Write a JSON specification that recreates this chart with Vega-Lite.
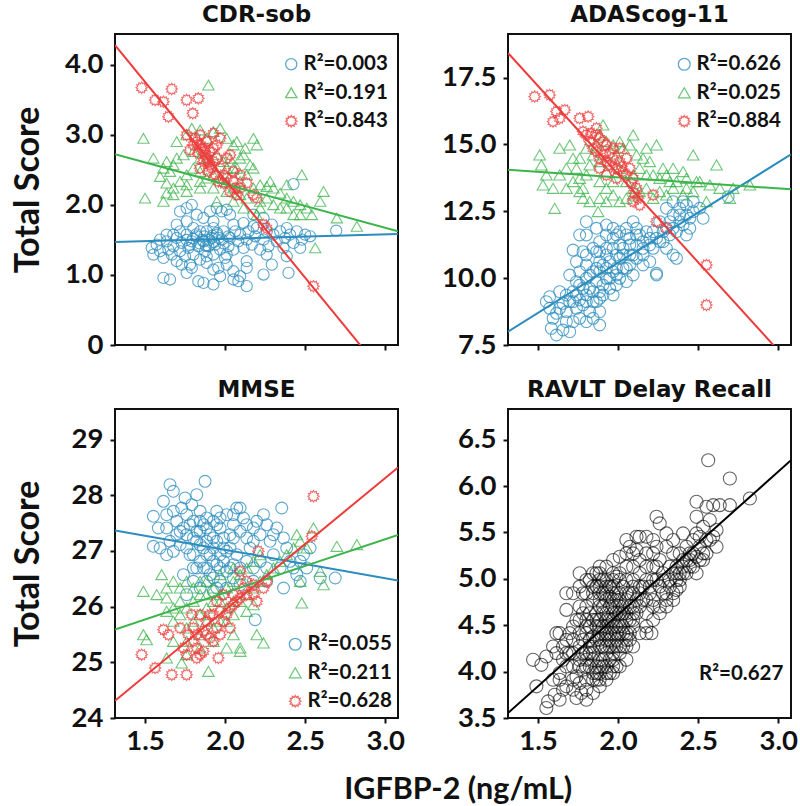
{
"$schema": "https://vega.github.io/schema/vega-lite/v6.json",
"padding": {"left": 9, "top": 3, "right": 2, "bottom": 2},
"background": "white",
"datasets": {
"cdr": [
{"x":1.615,"y":0.958,"g":"b"},{"x":1.656,"y":0.935,"g":"b"},{"x":1.760,"y":1.030,"g":"b"},{"x":1.833,"y":0.911,"g":"b"},{"x":1.865,"y":0.887,"g":"b"},{"x":1.927,"y":0.864,"g":"b"},{"x":1.958,"y":1.101,"g":"b"},{"x":1.969,"y":0.982,"g":"b"},{"x":2.052,"y":1.053,"g":"b"},{"x":2.083,"y":0.911,"g":"b"},{"x":2.094,"y":0.982,"g":"b"},{"x":2.135,"y":0.840,"g":"b"},{"x":2.240,"y":1.006,"g":"b"},{"x":2.292,"y":1.148,"g":"b"},{"x":2.396,"y":1.030,"g":"b"},{"x":2.135,"y":1.101,"g":"b"},{"x":1.792,"y":1.101,"g":"b"},{"x":1.927,"y":1.077,"g":"b"},{"x":2.052,"y":0.935,"g":"b"},
{"x":1.719,"y":1.907,"g":"b"},{"x":1.760,"y":1.955,"g":"b"},{"x":1.792,"y":2.002,"g":"b"},{"x":1.823,"y":1.860,"g":"b"},{"x":1.865,"y":1.813,"g":"b"},{"x":1.906,"y":1.907,"g":"b"},{"x":1.948,"y":1.955,"g":"b"},{"x":1.979,"y":1.907,"g":"b"},{"x":2.010,"y":1.931,"g":"b"},{"x":2.031,"y":1.860,"g":"b"},{"x":1.927,"y":1.765,"g":"b"},{"x":1.760,"y":1.765,"g":"b"},{"x":1.698,"y":1.718,"g":"b"},{"x":1.677,"y":1.575,"g":"b"},{"x":2.177,"y":1.860,"g":"b"},{"x":2.240,"y":1.813,"g":"b"},{"x":2.427,"y":2.297,"g":"b"},{"x":2.694,"y":1.632,"g":"b"},
{"x":1.542,"y":1.386,"g":"b"},{"x":1.552,"y":1.291,"g":"b"},{"x":1.573,"y":1.433,"g":"b"},{"x":1.594,"y":1.338,"g":"b"},{"x":1.615,"y":1.243,"g":"b"},{"x":1.635,"y":1.480,"g":"b"},{"x":1.646,"y":1.362,"g":"b"},{"x":1.667,"y":1.291,"g":"b"},{"x":1.677,"y":1.409,"g":"b"},{"x":1.698,"y":1.528,"g":"b"},{"x":1.698,"y":1.196,"g":"b"},{"x":1.719,"y":1.338,"g":"b"},{"x":1.729,"y":1.457,"g":"b"},{"x":1.750,"y":1.267,"g":"b"},{"x":1.760,"y":1.575,"g":"b"},{"x":1.771,"y":1.386,"g":"b"},{"x":1.792,"y":1.480,"g":"b"},{"x":1.802,"y":1.291,"g":"b"},{"x":1.823,"y":1.552,"g":"b"},{"x":1.833,"y":1.409,"g":"b"},{"x":1.844,"y":1.219,"g":"b"},{"x":1.865,"y":1.480,"g":"b"},{"x":1.875,"y":1.338,"g":"b"},{"x":1.885,"y":1.623,"g":"b"},{"x":1.896,"y":1.409,"g":"b"},{"x":1.917,"y":1.528,"g":"b"},{"x":1.927,"y":1.291,"g":"b"},{"x":1.938,"y":1.433,"g":"b"},{"x":1.948,"y":1.575,"g":"b"},{"x":1.969,"y":1.362,"g":"b"},{"x":1.979,"y":1.504,"g":"b"},{"x":1.990,"y":1.623,"g":"b"},{"x":2.000,"y":1.243,"g":"b"},{"x":2.021,"y":1.409,"g":"b"},{"x":2.031,"y":1.528,"g":"b"},{"x":2.052,"y":1.362,"g":"b"},{"x":2.063,"y":1.623,"g":"b"},{"x":2.083,"y":1.480,"g":"b"},{"x":2.094,"y":1.575,"g":"b"},{"x":2.115,"y":1.386,"g":"b"},{"x":2.135,"y":1.504,"g":"b"},{"x":2.146,"y":1.623,"g":"b"},{"x":2.167,"y":1.433,"g":"b"},{"x":2.188,"y":1.552,"g":"b"},{"x":2.198,"y":1.670,"g":"b"},{"x":2.219,"y":1.362,"g":"b"},{"x":2.240,"y":1.504,"g":"b"},{"x":2.260,"y":1.623,"g":"b"},{"x":2.271,"y":1.409,"g":"b"},{"x":2.292,"y":1.718,"g":"b"},{"x":2.302,"y":1.575,"g":"b"},{"x":2.323,"y":1.480,"g":"b"},{"x":2.344,"y":1.623,"g":"b"},{"x":2.365,"y":1.386,"g":"b"},{"x":2.375,"y":1.528,"g":"b"},{"x":2.385,"y":1.670,"g":"b"},{"x":2.406,"y":1.575,"g":"b"},{"x":2.427,"y":1.457,"g":"b"},{"x":2.448,"y":1.623,"g":"b"},{"x":2.469,"y":1.386,"g":"b"},{"x":2.479,"y":1.504,"g":"b"},{"x":2.500,"y":1.575,"g":"b"},{"x":2.531,"y":1.552,"g":"b"},{"x":1.802,"y":1.670,"g":"b"},{"x":1.844,"y":1.623,"g":"b"},{"x":1.927,"y":1.670,"g":"b"},{"x":2.052,"y":1.718,"g":"b"},{"x":2.115,"y":1.741,"g":"b"},{"x":2.177,"y":1.694,"g":"b"},{"x":1.729,"y":1.148,"g":"b"},{"x":1.781,"y":1.148,"g":"b"},{"x":1.885,"y":1.172,"g":"b"},{"x":2.010,"y":1.148,"g":"b"},{"x":2.135,"y":1.196,"g":"b"},{"x":2.260,"y":1.291,"g":"b"},{"x":2.385,"y":1.267,"g":"b"},{"x":1.719,"y":1.623,"g":"b"},{"x":1.635,"y":1.575,"g":"b"},{"x":1.594,"y":1.504,"g":"b"},{"x":2.010,"y":1.291,"g":"b"},{"x":1.885,"y":1.267,"g":"b"},
{"x":1.80,"y":1.52,"g":"b"},{"x":1.84,"y":1.45,"g":"b"},{"x":1.87,"y":1.55,"g":"b"},{"x":1.90,"y":1.50,"g":"b"},{"x":1.93,"y":1.47,"g":"b"},{"x":1.96,"y":1.53,"g":"b"},{"x":1.99,"y":1.45,"g":"b"},{"x":1.82,"y":1.58,"g":"b"},{"x":1.78,"y":1.43,"g":"b"},{"x":1.88,"y":1.42,"g":"b"},{"x":1.95,"y":1.60,"g":"b"},{"x":2.02,"y":1.55,"g":"b"},{"x":1.86,"y":1.50,"g":"b"},{"x":1.92,"y":1.56,"g":"b"},{"x":1.76,"y":1.50,"g":"b"},
{"x":1.490,"y":2.951,"g":"g"},{"x":1.896,"y":3.711,"g":"g"},{"x":1.500,"y":2.097,"g":"g"},{"x":1.615,"y":2.050,"g":"g"},{"x":1.552,"y":2.667,"g":"g"},{"x":1.615,"y":2.524,"g":"g"},{"x":1.635,"y":2.619,"g":"g"},{"x":1.677,"y":2.572,"g":"g"},{"x":1.698,"y":2.904,"g":"g"},{"x":1.760,"y":2.999,"g":"g"},{"x":1.792,"y":3.094,"g":"g"},{"x":1.844,"y":3.070,"g":"g"},{"x":1.885,"y":2.951,"g":"g"},{"x":1.927,"y":3.046,"g":"g"},{"x":1.969,"y":3.094,"g":"g"},{"x":2.010,"y":2.951,"g":"g"},{"x":2.052,"y":2.856,"g":"g"},{"x":2.073,"y":2.904,"g":"g"},{"x":2.094,"y":2.667,"g":"g"},{"x":2.125,"y":2.809,"g":"g"},{"x":2.177,"y":2.951,"g":"g"},{"x":2.198,"y":2.856,"g":"g"},{"x":2.156,"y":2.572,"g":"g"},{"x":2.177,"y":2.524,"g":"g"},{"x":2.219,"y":2.287,"g":"g"},{"x":2.260,"y":2.263,"g":"g"},{"x":2.281,"y":2.335,"g":"g"},{"x":2.302,"y":2.240,"g":"g"},{"x":2.344,"y":2.168,"g":"g"},{"x":2.385,"y":2.097,"g":"g"},{"x":2.427,"y":2.050,"g":"g"},{"x":2.469,"y":2.002,"g":"g"},{"x":2.479,"y":2.429,"g":"g"},{"x":2.510,"y":1.955,"g":"g"},{"x":2.542,"y":1.860,"g":"g"},{"x":2.594,"y":2.050,"g":"g"},{"x":2.615,"y":2.192,"g":"g"},{"x":2.698,"y":1.813,"g":"g"},{"x":2.823,"y":1.694,"g":"g"},{"x":2.563,"y":1.386,"g":"g"},{"x":2.385,"y":1.955,"g":"g"},{"x":2.427,"y":1.860,"g":"g"},{"x":2.469,"y":1.860,"g":"g"},{"x":2.344,"y":1.955,"g":"g"},{"x":2.219,"y":2.050,"g":"g"},{"x":2.094,"y":2.145,"g":"g"},{"x":2.052,"y":2.240,"g":"g"},{"x":2.010,"y":2.335,"g":"g"},{"x":1.969,"y":2.382,"g":"g"},{"x":1.927,"y":2.429,"g":"g"},{"x":1.885,"y":2.382,"g":"g"},{"x":1.844,"y":2.477,"g":"g"},{"x":1.802,"y":2.524,"g":"g"},{"x":1.760,"y":2.429,"g":"g"},{"x":1.719,"y":2.335,"g":"g"},{"x":1.677,"y":2.240,"g":"g"},{"x":1.635,"y":2.311,"g":"g"},{"x":1.677,"y":2.145,"g":"g"},{"x":1.760,"y":2.192,"g":"g"},{"x":1.844,"y":2.240,"g":"g"},{"x":1.927,"y":2.240,"g":"g"},{"x":2.010,"y":2.192,"g":"g"},{"x":2.094,"y":2.335,"g":"g"},{"x":2.135,"y":2.429,"g":"g"},{"x":1.740,"y":2.714,"g":"g"},{"x":1.802,"y":2.762,"g":"g"},{"x":1.844,"y":2.667,"g":"g"},{"x":1.885,"y":2.667,"g":"g"},{"x":1.948,"y":2.714,"g":"g"},{"x":1.990,"y":2.619,"g":"g"},{"x":2.031,"y":2.667,"g":"g"},{"x":2.073,"y":2.524,"g":"g"},{"x":2.115,"y":2.714,"g":"g"},{"x":1.760,"y":2.287,"g":"g"},{"x":1.844,"y":2.335,"g":"g"},{"x":2.052,"y":2.050,"g":"g"},{"x":2.135,"y":2.097,"g":"g"},{"x":2.177,"y":2.240,"g":"g"},{"x":2.260,"y":2.097,"g":"g"},{"x":2.302,"y":2.002,"g":"g"},{"x":2.219,"y":1.955,"g":"g"},{"x":2.385,"y":2.287,"g":"g"},{"x":1.594,"y":2.406,"g":"g"},{"x":1.656,"y":2.477,"g":"g"},{"x":1.635,"y":2.168,"g":"g"},{"x":1.698,"y":2.667,"g":"g"},{"x":2.010,"y":2.524,"g":"g"},{"x":1.948,"y":2.050,"g":"g"},{"x":2.052,"y":2.524,"g":"g"},{"x":2.115,"y":1.955,"g":"g"},{"x":2.198,"y":1.860,"g":"g"},
{"x":1.479,"y":3.673,"g":"r"},{"x":1.563,"y":3.497,"g":"r"},{"x":1.615,"y":3.473,"g":"r"},{"x":1.667,"y":3.654,"g":"r"},{"x":1.760,"y":3.497,"g":"r"},{"x":1.833,"y":3.521,"g":"r"},{"x":1.798,"y":3.307,"g":"r"},{"x":1.646,"y":3.260,"g":"r"},{"x":1.760,"y":2.999,"g":"r"},{"x":1.823,"y":2.904,"g":"r"},{"x":1.844,"y":2.856,"g":"r"},{"x":1.854,"y":2.809,"g":"r"},{"x":1.865,"y":2.762,"g":"r"},{"x":1.875,"y":2.714,"g":"r"},{"x":1.885,"y":2.667,"g":"r"},{"x":1.896,"y":2.619,"g":"r"},{"x":1.906,"y":2.572,"g":"r"},{"x":1.917,"y":2.524,"g":"r"},{"x":1.927,"y":2.619,"g":"r"},{"x":1.948,"y":2.667,"g":"r"},{"x":1.969,"y":2.951,"g":"r"},{"x":1.969,"y":2.524,"g":"r"},{"x":1.990,"y":2.429,"g":"r"},{"x":2.010,"y":2.382,"g":"r"},{"x":2.031,"y":2.714,"g":"r"},{"x":2.052,"y":2.335,"g":"r"},{"x":2.063,"y":2.240,"g":"r"},{"x":2.031,"y":2.192,"g":"r"},{"x":2.073,"y":2.145,"g":"r"},{"x":2.094,"y":2.240,"g":"r"},{"x":2.177,"y":2.145,"g":"r"},{"x":2.198,"y":2.097,"g":"r"},{"x":2.240,"y":1.718,"g":"r"},{"x":2.260,"y":1.670,"g":"r"},{"x":2.552,"y":0.840,"g":"r"},{"x":1.813,"y":2.951,"g":"r"},{"x":1.844,"y":2.999,"g":"r"},{"x":1.885,"y":2.904,"g":"r"},{"x":1.875,"y":2.809,"g":"r"},{"x":1.906,"y":2.762,"g":"r"},{"x":1.927,"y":2.809,"g":"r"},{"x":1.833,"y":2.738,"g":"r"},{"x":1.865,"y":2.619,"g":"r"},{"x":1.896,"y":2.477,"g":"r"},{"x":1.938,"y":2.429,"g":"r"},{"x":1.958,"y":2.335,"g":"r"},{"x":1.990,"y":2.311,"g":"r"},{"x":1.844,"y":2.524,"g":"r"},{"x":1.927,"y":3.023,"g":"r"},{"x":2.010,"y":2.667,"g":"r"},{"x":1.802,"y":2.856,"g":"r"},{"x":1.781,"y":2.785,"g":"r"},{"x":2.052,"y":2.477,"g":"r"},{"x":2.094,"y":2.429,"g":"r"},{"x":2.135,"y":2.311,"g":"r"},{"x":1.948,"y":2.856,"g":"r"}
],
"ada": [
{"x":1.615,"y":7.874,"g":"b"},{"x":1.656,"y":8.061,"g":"b"},{"x":1.573,"y":9.308,"g":"b"},{"x":1.552,"y":9.121,"g":"b"},{"x":1.573,"y":8.872,"g":"b"},{"x":1.615,"y":8.685,"g":"b"},{"x":1.656,"y":9.059,"g":"b"},{"x":1.677,"y":9.370,"g":"b"},{"x":1.719,"y":9.495,"g":"b"},{"x":1.698,"y":9.121,"g":"b"},{"x":1.740,"y":8.872,"g":"b"},{"x":1.760,"y":9.183,"g":"b"},{"x":1.781,"y":9.620,"g":"b"},{"x":1.802,"y":9.370,"g":"b"},{"x":1.823,"y":8.747,"g":"b"},{"x":1.844,"y":8.498,"g":"b"},{"x":1.885,"y":8.747,"g":"b"},{"x":1.865,"y":9.121,"g":"b"},{"x":1.885,"y":9.495,"g":"b"},{"x":1.906,"y":9.744,"g":"b"},{"x":1.927,"y":9.994,"g":"b"},{"x":1.948,"y":9.620,"g":"b"},{"x":1.969,"y":9.370,"g":"b"},{"x":1.802,"y":9.994,"g":"b"},{"x":1.760,"y":10.243,"g":"b"},{"x":1.740,"y":10.617,"g":"b"},{"x":1.802,"y":10.493,"g":"b"},{"x":1.844,"y":10.243,"g":"b"},{"x":1.885,"y":10.617,"g":"b"},{"x":1.927,"y":10.867,"g":"b"},{"x":1.969,"y":11.116,"g":"b"},{"x":2.010,"y":10.742,"g":"b"},{"x":2.052,"y":10.368,"g":"b"},{"x":2.094,"y":10.118,"g":"b"},{"x":2.073,"y":10.867,"g":"b"},{"x":2.115,"y":11.241,"g":"b"},{"x":2.156,"y":10.867,"g":"b"},{"x":2.115,"y":11.615,"g":"b"},{"x":2.052,"y":11.615,"g":"b"},{"x":1.990,"y":11.615,"g":"b"},{"x":1.927,"y":11.615,"g":"b"},{"x":1.885,"y":11.365,"g":"b"},{"x":1.844,"y":11.116,"g":"b"},{"x":1.802,"y":11.615,"g":"b"},{"x":1.781,"y":10.991,"g":"b"},{"x":1.927,"y":11.989,"g":"b"},{"x":1.969,"y":11.864,"g":"b"},{"x":2.010,"y":11.739,"g":"b"},{"x":2.052,"y":11.864,"g":"b"},{"x":2.094,"y":12.113,"g":"b"},{"x":2.135,"y":11.615,"g":"b"},{"x":2.177,"y":11.739,"g":"b"},{"x":2.219,"y":11.739,"g":"b"},{"x":2.240,"y":11.490,"g":"b"},{"x":2.281,"y":11.365,"g":"b"},{"x":2.302,"y":11.116,"g":"b"},{"x":2.344,"y":10.867,"g":"b"},{"x":2.365,"y":10.742,"g":"b"},{"x":2.323,"y":11.615,"g":"b"},{"x":2.365,"y":11.739,"g":"b"},{"x":2.406,"y":11.989,"g":"b"},{"x":2.427,"y":12.363,"g":"b"},{"x":2.448,"y":12.238,"g":"b"},{"x":2.469,"y":12.488,"g":"b"},{"x":2.427,"y":12.737,"g":"b"},{"x":2.385,"y":12.612,"g":"b"},{"x":2.344,"y":12.363,"g":"b"},{"x":2.302,"y":12.612,"g":"b"},{"x":2.344,"y":12.862,"g":"b"},{"x":2.406,"y":12.862,"g":"b"},{"x":2.469,"y":12.862,"g":"b"},{"x":2.510,"y":12.612,"g":"b"},{"x":2.531,"y":12.238,"g":"b"},{"x":2.688,"y":13.049,"g":"b"},{"x":2.240,"y":10.118,"g":"b"},{"x":2.198,"y":10.617,"g":"b"},{"x":2.156,"y":10.493,"g":"b"},{"x":1.719,"y":8.373,"g":"b"},{"x":1.760,"y":8.498,"g":"b"},{"x":1.802,"y":8.373,"g":"b"},{"x":1.885,"y":8.248,"g":"b"},{"x":1.635,"y":9.495,"g":"b"},{"x":1.583,"y":8.123,"g":"b"},{"x":1.677,"y":8.373,"g":"b"},{"x":1.698,"y":7.999,"g":"b"},{"x":1.865,"y":10.991,"g":"b"},{"x":1.990,"y":10.368,"g":"b"},{"x":2.010,"y":9.994,"g":"b"},{"x":1.927,"y":10.368,"g":"b"},{"x":1.969,"y":10.243,"g":"b"},{"x":1.885,"y":10.243,"g":"b"},{"x":2.094,"y":10.867,"g":"b"},{"x":2.156,"y":11.365,"g":"b"},{"x":2.219,"y":11.116,"g":"b"},{"x":2.260,"y":11.365,"g":"b"},{"x":1.760,"y":9.744,"g":"b"},{"x":1.865,"y":9.869,"g":"b"},{"x":1.990,"y":9.744,"g":"b"},{"x":2.052,"y":9.869,"g":"b"},{"x":1.885,"y":9.246,"g":"b"},{"x":1.802,"y":9.121,"g":"b"},{"x":1.844,"y":9.495,"g":"b"},{"x":2.010,"y":11.241,"g":"b"},{"x":2.031,"y":10.867,"g":"b"},{"x":2.073,"y":11.490,"g":"b"},{"x":2.115,"y":11.864,"g":"b"},{"x":2.198,"y":11.490,"g":"b"},{"x":2.302,"y":11.864,"g":"b"},{"x":2.385,"y":12.113,"g":"b"},{"x":2.427,"y":11.615,"g":"b"},{"x":2.448,"y":11.864,"g":"b"},{"x":2.323,"y":12.113,"g":"b"},{"x":2.260,"y":12.113,"g":"b"},{"x":1.740,"y":9.869,"g":"b"},{"x":1.698,"y":10.118,"g":"b"},{"x":1.760,"y":11.615,"g":"b"},{"x":1.802,"y":12.113,"g":"b"},{"x":1.865,"y":11.864,"g":"b"},{"x":1.719,"y":11.050,"g":"b"},{"x":2.240,"y":10.180,"g":"b"},
{"x":1.823,"y":10.118,"g":"b"},{"x":1.865,"y":10.368,"g":"b"},{"x":1.906,"y":10.493,"g":"b"},{"x":1.948,"y":10.617,"g":"b"},{"x":1.990,"y":10.867,"g":"b"},{"x":2.031,"y":11.116,"g":"b"},{"x":2.073,"y":11.241,"g":"b"},{"x":1.823,"y":9.620,"g":"b"},{"x":1.906,"y":9.370,"g":"b"},{"x":1.948,"y":9.994,"g":"b"},{"x":1.990,"y":10.118,"g":"b"},{"x":2.031,"y":10.368,"g":"b"},{"x":2.073,"y":10.493,"g":"b"},{"x":2.115,"y":10.742,"g":"b"},{"x":2.156,"y":11.116,"g":"b"},{"x":2.198,"y":11.241,"g":"b"},{"x":1.927,"y":11.116,"g":"b"},{"x":1.969,"y":11.490,"g":"b"},{"x":1.885,"y":10.991,"g":"b"},{"x":1.802,"y":10.867,"g":"b"},{"x":1.740,"y":9.370,"g":"b"},{"x":1.719,"y":9.121,"g":"b"},{"x":1.781,"y":8.996,"g":"b"},{"x":1.844,"y":9.121,"g":"b"},{"x":1.677,"y":8.747,"g":"b"},{"x":1.635,"y":8.872,"g":"b"},{"x":1.594,"y":8.498,"g":"b"},{"x":2.281,"y":11.739,"g":"b"},{"x":2.344,"y":11.864,"g":"b"},{"x":2.385,"y":12.363,"g":"b"},
{"x":1.510,"y":14.607,"g":"g"},{"x":1.521,"y":14.233,"g":"g"},{"x":1.552,"y":13.859,"g":"g"},{"x":1.531,"y":13.485,"g":"g"},{"x":1.604,"y":12.612,"g":"g"},{"x":1.635,"y":14.857,"g":"g"},{"x":1.677,"y":14.108,"g":"g"},{"x":1.698,"y":14.981,"g":"g"},{"x":1.719,"y":14.483,"g":"g"},{"x":1.740,"y":14.108,"g":"g"},{"x":1.760,"y":13.734,"g":"g"},{"x":1.781,"y":13.360,"g":"g"},{"x":1.802,"y":13.859,"g":"g"},{"x":1.823,"y":14.233,"g":"g"},{"x":1.844,"y":14.607,"g":"g"},{"x":1.865,"y":14.981,"g":"g"},{"x":1.885,"y":15.355,"g":"g"},{"x":1.906,"y":15.729,"g":"g"},{"x":1.927,"y":15.106,"g":"g"},{"x":1.969,"y":14.981,"g":"g"},{"x":1.990,"y":14.607,"g":"g"},{"x":2.010,"y":15.106,"g":"g"},{"x":2.031,"y":14.857,"g":"g"},{"x":2.073,"y":14.981,"g":"g"},{"x":2.094,"y":15.355,"g":"g"},{"x":2.115,"y":14.607,"g":"g"},{"x":2.135,"y":14.108,"g":"g"},{"x":2.156,"y":14.483,"g":"g"},{"x":2.177,"y":14.857,"g":"g"},{"x":2.198,"y":14.358,"g":"g"},{"x":2.219,"y":13.859,"g":"g"},{"x":2.240,"y":14.981,"g":"g"},{"x":2.281,"y":14.108,"g":"g"},{"x":2.302,"y":13.859,"g":"g"},{"x":2.323,"y":13.610,"g":"g"},{"x":2.344,"y":13.360,"g":"g"},{"x":2.365,"y":13.610,"g":"g"},{"x":2.406,"y":13.984,"g":"g"},{"x":2.427,"y":13.734,"g":"g"},{"x":2.469,"y":14.607,"g":"g"},{"x":2.510,"y":13.610,"g":"g"},{"x":2.615,"y":14.233,"g":"g"},{"x":2.698,"y":12.986,"g":"g"},{"x":2.823,"y":13.485,"g":"g"},{"x":1.875,"y":12.488,"g":"g"},{"x":1.885,"y":12.986,"g":"g"},{"x":1.927,"y":12.862,"g":"g"},{"x":1.969,"y":13.111,"g":"g"},{"x":2.010,"y":12.862,"g":"g"},{"x":2.052,"y":12.986,"g":"g"},{"x":2.094,"y":13.111,"g":"g"},{"x":2.135,"y":13.236,"g":"g"},{"x":2.177,"y":13.360,"g":"g"},{"x":2.219,"y":12.986,"g":"g"},{"x":2.260,"y":13.236,"g":"g"},{"x":2.302,"y":13.111,"g":"g"},{"x":2.406,"y":13.111,"g":"g"},{"x":2.469,"y":13.236,"g":"g"},{"x":2.552,"y":12.862,"g":"g"},{"x":1.781,"y":12.986,"g":"g"},{"x":1.823,"y":12.862,"g":"g"},{"x":1.677,"y":13.360,"g":"g"},{"x":1.719,"y":13.610,"g":"g"},{"x":1.760,"y":13.236,"g":"g"},{"x":1.885,"y":13.610,"g":"g"},{"x":1.969,"y":13.610,"g":"g"},{"x":2.052,"y":13.610,"g":"g"},{"x":2.094,"y":13.859,"g":"g"},{"x":1.927,"y":13.984,"g":"g"},{"x":1.885,"y":14.358,"g":"g"},{"x":2.010,"y":14.108,"g":"g"},{"x":2.260,"y":13.734,"g":"g"},{"x":2.344,"y":14.108,"g":"g"},{"x":2.427,"y":13.360,"g":"g"},{"x":1.802,"y":14.857,"g":"g"},{"x":2.094,"y":13.360,"g":"g"},{"x":2.177,"y":13.859,"g":"g"},{"x":2.490,"y":13.610,"g":"g"},{"x":2.573,"y":13.485,"g":"g"},{"x":2.635,"y":13.360,"g":"g"},{"x":2.719,"y":13.360,"g":"g"},{"x":1.635,"y":13.859,"g":"g"},{"x":1.594,"y":13.360,"g":"g"},{"x":1.927,"y":13.360,"g":"g"},{"x":1.760,"y":14.483,"g":"g"},
{"x":1.479,"y":16.789,"g":"r"},{"x":1.573,"y":16.852,"g":"r"},{"x":1.615,"y":16.228,"g":"r"},{"x":1.667,"y":16.291,"g":"r"},{"x":1.594,"y":15.854,"g":"r"},{"x":1.635,"y":15.979,"g":"r"},{"x":1.760,"y":15.979,"g":"r"},{"x":1.813,"y":16.041,"g":"r"},{"x":1.865,"y":15.605,"g":"r"},{"x":1.885,"y":15.231,"g":"r"},{"x":1.802,"y":15.355,"g":"r"},{"x":1.823,"y":15.106,"g":"r"},{"x":1.844,"y":14.857,"g":"r"},{"x":1.865,"y":14.732,"g":"r"},{"x":1.885,"y":14.483,"g":"r"},{"x":1.906,"y":14.607,"g":"r"},{"x":1.927,"y":14.358,"g":"r"},{"x":1.948,"y":14.233,"g":"r"},{"x":1.969,"y":14.857,"g":"r"},{"x":1.990,"y":14.108,"g":"r"},{"x":2.010,"y":14.358,"g":"r"},{"x":2.031,"y":13.984,"g":"r"},{"x":2.052,"y":13.859,"g":"r"},{"x":2.073,"y":14.108,"g":"r"},{"x":2.094,"y":13.734,"g":"r"},{"x":2.115,"y":13.360,"g":"r"},{"x":2.094,"y":12.862,"g":"r"},{"x":2.135,"y":12.737,"g":"r"},{"x":2.219,"y":13.111,"g":"r"},{"x":2.240,"y":12.113,"g":"r"},{"x":2.302,"y":11.864,"g":"r"},{"x":2.552,"y":10.493,"g":"r"},{"x":2.552,"y":8.996,"g":"r"},{"x":1.781,"y":15.480,"g":"r"},{"x":1.927,"y":14.981,"g":"r"},{"x":1.969,"y":14.483,"g":"r"},{"x":2.010,"y":14.857,"g":"r"},{"x":1.885,"y":14.108,"g":"r"},{"x":1.927,"y":13.859,"g":"r"},{"x":1.990,"y":13.734,"g":"r"},{"x":2.052,"y":14.483,"g":"r"},{"x":1.906,"y":15.106,"g":"r"},{"x":1.865,"y":15.355,"g":"r"},{"x":1.833,"y":15.418,"g":"r"},{"x":1.948,"y":14.670,"g":"r"},{"x":2.021,"y":14.171,"g":"r"},{"x":2.083,"y":13.547,"g":"r"},{"x":2.104,"y":13.173,"g":"r"},{"x":2.125,"y":12.986,"g":"r"}
],
"mmse": [
{"x":1.656,"y":28.192,"g":"b"},{"x":1.677,"y":28.072,"g":"b"},{"x":1.875,"y":28.251,"g":"b"},{"x":1.823,"y":28.012,"g":"b"},{"x":1.750,"y":27.952,"g":"b"},{"x":1.615,"y":27.892,"g":"b"},{"x":1.552,"y":27.623,"g":"b"},{"x":1.583,"y":27.413,"g":"b"},{"x":1.552,"y":27.084,"g":"b"},{"x":1.635,"y":27.413,"g":"b"},{"x":1.656,"y":27.174,"g":"b"},{"x":1.677,"y":26.994,"g":"b"},{"x":1.698,"y":27.533,"g":"b"},{"x":1.729,"y":27.772,"g":"b"},{"x":1.760,"y":27.653,"g":"b"},{"x":1.792,"y":27.832,"g":"b"},{"x":1.802,"y":27.533,"g":"b"},{"x":1.823,"y":27.353,"g":"b"},{"x":1.844,"y":27.713,"g":"b"},{"x":1.865,"y":27.473,"g":"b"},{"x":1.885,"y":27.593,"g":"b"},{"x":1.906,"y":27.293,"g":"b"},{"x":1.927,"y":27.533,"g":"b"},{"x":1.948,"y":27.713,"g":"b"},{"x":1.969,"y":27.413,"g":"b"},{"x":1.990,"y":27.234,"g":"b"},{"x":2.010,"y":27.653,"g":"b"},{"x":2.052,"y":27.473,"g":"b"},{"x":2.073,"y":27.772,"g":"b"},{"x":2.094,"y":27.772,"g":"b"},{"x":2.115,"y":27.593,"g":"b"},{"x":2.031,"y":27.054,"g":"b"},{"x":2.052,"y":27.234,"g":"b"},{"x":2.073,"y":26.934,"g":"b"},{"x":2.094,"y":27.353,"g":"b"},{"x":2.135,"y":27.234,"g":"b"},{"x":2.156,"y":27.054,"g":"b"},{"x":2.177,"y":27.413,"g":"b"},{"x":2.198,"y":27.533,"g":"b"},{"x":2.219,"y":27.293,"g":"b"},{"x":2.240,"y":27.653,"g":"b"},{"x":2.260,"y":27.473,"g":"b"},{"x":2.281,"y":27.174,"g":"b"},{"x":2.302,"y":27.293,"g":"b"},{"x":2.323,"y":27.413,"g":"b"},{"x":2.354,"y":27.772,"g":"b"},{"x":2.365,"y":27.234,"g":"b"},{"x":2.385,"y":27.054,"g":"b"},{"x":2.406,"y":26.814,"g":"b"},{"x":2.427,"y":26.695,"g":"b"},{"x":2.448,"y":26.575,"g":"b"},{"x":2.469,"y":26.814,"g":"b"},{"x":2.490,"y":26.934,"g":"b"},{"x":2.510,"y":26.695,"g":"b"},{"x":2.531,"y":27.054,"g":"b"},{"x":2.594,"y":26.515,"g":"b"},{"x":2.688,"y":26.515,"g":"b"},{"x":2.302,"y":26.934,"g":"b"},{"x":2.344,"y":26.695,"g":"b"},{"x":2.260,"y":26.695,"g":"b"},{"x":2.219,"y":26.814,"g":"b"},{"x":2.177,"y":26.695,"g":"b"},{"x":2.135,"y":26.814,"g":"b"},{"x":2.094,"y":26.695,"g":"b"},{"x":2.052,"y":26.754,"g":"b"},{"x":2.010,"y":26.635,"g":"b"},{"x":1.969,"y":26.455,"g":"b"},{"x":1.948,"y":26.335,"g":"b"},{"x":1.927,"y":26.515,"g":"b"},{"x":1.885,"y":26.695,"g":"b"},{"x":1.844,"y":26.814,"g":"b"},{"x":1.802,"y":26.934,"g":"b"},{"x":1.760,"y":27.054,"g":"b"},{"x":1.719,"y":27.114,"g":"b"},{"x":1.844,"y":27.114,"g":"b"},{"x":1.885,"y":26.934,"g":"b"},{"x":1.927,"y":26.814,"g":"b"},{"x":1.969,"y":26.934,"g":"b"},{"x":2.010,"y":26.994,"g":"b"},{"x":1.885,"y":27.174,"g":"b"},{"x":1.927,"y":27.054,"g":"b"},{"x":1.969,"y":26.695,"g":"b"},{"x":2.052,"y":26.515,"g":"b"},{"x":2.188,"y":25.766,"g":"b"},{"x":1.885,"y":26.455,"g":"b"},{"x":1.844,"y":26.335,"g":"b"},{"x":1.802,"y":26.455,"g":"b"},{"x":1.760,"y":26.216,"g":"b"},{"x":1.740,"y":26.575,"g":"b"},{"x":1.802,"y":26.695,"g":"b"},{"x":1.927,"y":26.275,"g":"b"},{"x":2.010,"y":26.335,"g":"b"},{"x":2.094,"y":26.395,"g":"b"},{"x":2.177,"y":26.455,"g":"b"},{"x":2.260,"y":26.455,"g":"b"},{"x":2.365,"y":26.335,"g":"b"},{"x":2.469,"y":26.455,"g":"b"},{"x":1.802,"y":27.234,"g":"b"},{"x":1.719,"y":27.353,"g":"b"},{"x":1.635,"y":26.934,"g":"b"},{"x":1.594,"y":27.054,"g":"b"},{"x":1.927,"y":27.234,"g":"b"},{"x":1.844,"y":27.353,"g":"b"},
{"x":1.781,"y":27.473,"g":"b"},{"x":1.823,"y":27.174,"g":"b"},{"x":1.865,"y":27.054,"g":"b"},{"x":1.906,"y":26.934,"g":"b"},{"x":1.948,"y":27.174,"g":"b"},{"x":1.990,"y":27.054,"g":"b"},{"x":2.031,"y":27.293,"g":"b"},{"x":1.865,"y":26.695,"g":"b"},{"x":1.906,"y":26.575,"g":"b"},{"x":1.948,"y":26.754,"g":"b"},{"x":1.990,"y":26.814,"g":"b"},{"x":2.031,"y":26.695,"g":"b"},{"x":1.740,"y":27.413,"g":"b"},{"x":1.781,"y":26.934,"g":"b"},{"x":1.823,"y":26.695,"g":"b"},{"x":1.885,"y":27.413,"g":"b"},{"x":1.969,"y":27.593,"g":"b"},{"x":2.052,"y":27.653,"g":"b"},{"x":2.135,"y":27.473,"g":"b"},{"x":2.177,"y":27.174,"g":"b"},{"x":1.948,"y":27.473,"g":"b"},{"x":1.844,"y":27.533,"g":"b"},{"x":1.760,"y":27.293,"g":"b"},{"x":1.698,"y":27.293,"g":"b"},{"x":1.677,"y":27.713,"g":"b"},{"x":1.635,"y":27.653,"g":"b"},
{"x":1.490,"y":26.275,"g":"g"},{"x":1.604,"y":26.575,"g":"g"},{"x":1.490,"y":25.497,"g":"g"},{"x":1.510,"y":25.407,"g":"g"},{"x":1.573,"y":26.216,"g":"g"},{"x":1.635,"y":26.156,"g":"g"},{"x":1.635,"y":25.916,"g":"g"},{"x":1.677,"y":25.737,"g":"g"},{"x":1.719,"y":25.856,"g":"g"},{"x":1.760,"y":25.976,"g":"g"},{"x":1.802,"y":25.737,"g":"g"},{"x":1.844,"y":25.856,"g":"g"},{"x":1.885,"y":25.976,"g":"g"},{"x":1.927,"y":26.096,"g":"g"},{"x":1.969,"y":26.216,"g":"g"},{"x":2.010,"y":26.335,"g":"g"},{"x":2.052,"y":26.455,"g":"g"},{"x":2.094,"y":26.575,"g":"g"},{"x":2.135,"y":26.695,"g":"g"},{"x":2.177,"y":26.814,"g":"g"},{"x":2.219,"y":26.934,"g":"g"},{"x":1.635,"y":26.335,"g":"g"},{"x":1.677,"y":26.455,"g":"g"},{"x":1.719,"y":26.335,"g":"g"},{"x":1.760,"y":26.455,"g":"g"},{"x":1.802,"y":26.335,"g":"g"},{"x":1.844,"y":26.455,"g":"g"},{"x":1.885,"y":26.216,"g":"g"},{"x":1.927,"y":26.335,"g":"g"},{"x":1.969,"y":26.096,"g":"g"},{"x":2.010,"y":25.976,"g":"g"},{"x":2.052,"y":25.856,"g":"g"},{"x":2.094,"y":26.096,"g":"g"},{"x":2.135,"y":26.216,"g":"g"},{"x":2.177,"y":26.335,"g":"g"},{"x":2.219,"y":26.455,"g":"g"},{"x":2.260,"y":26.575,"g":"g"},{"x":2.302,"y":26.695,"g":"g"},{"x":2.344,"y":26.814,"g":"g"},{"x":2.385,"y":26.934,"g":"g"},{"x":2.427,"y":27.054,"g":"g"},{"x":2.469,"y":27.174,"g":"g"},{"x":2.510,"y":27.054,"g":"g"},{"x":2.552,"y":27.413,"g":"g"},{"x":2.594,"y":26.635,"g":"g"},{"x":2.615,"y":26.395,"g":"g"},{"x":2.469,"y":26.455,"g":"g"},{"x":2.479,"y":26.066,"g":"g"},{"x":2.448,"y":27.293,"g":"g"},{"x":2.698,"y":27.084,"g":"g"},{"x":2.823,"y":27.114,"g":"g"},{"x":2.198,"y":25.497,"g":"g"},{"x":2.240,"y":25.347,"g":"g"},{"x":2.094,"y":25.257,"g":"g"},{"x":2.094,"y":25.198,"g":"g"},{"x":1.896,"y":24.838,"g":"g"},{"x":1.729,"y":24.988,"g":"g"},{"x":1.635,"y":25.078,"g":"g"},{"x":1.760,"y":25.377,"g":"g"},{"x":1.844,"y":25.497,"g":"g"},{"x":1.927,"y":25.617,"g":"g"},{"x":1.969,"y":25.737,"g":"g"},{"x":1.802,"y":26.096,"g":"g"},{"x":1.885,"y":25.737,"g":"g"},{"x":2.010,"y":25.737,"g":"g"},{"x":2.052,"y":26.096,"g":"g"},{"x":2.135,"y":25.916,"g":"g"},{"x":2.177,"y":26.036,"g":"g"},{"x":1.719,"y":26.096,"g":"g"},{"x":1.677,"y":25.976,"g":"g"},{"x":1.844,"y":26.216,"g":"g"},{"x":1.969,"y":26.575,"g":"g"},{"x":2.052,"y":26.695,"g":"g"},{"x":1.885,"y":26.455,"g":"g"},{"x":1.760,"y":25.617,"g":"g"},{"x":1.927,"y":25.377,"g":"g"},{"x":2.052,"y":25.497,"g":"g"},{"x":2.010,"y":25.257,"g":"g"},{"x":1.677,"y":25.377,"g":"g"},{"x":1.760,"y":25.138,"g":"g"},{"x":1.844,"y":25.257,"g":"g"},
{"x":1.479,"y":25.138,"g":"r"},{"x":1.563,"y":24.898,"g":"r"},{"x":1.615,"y":25.587,"g":"r"},{"x":1.646,"y":25.497,"g":"r"},{"x":1.667,"y":24.778,"g":"r"},{"x":1.760,"y":24.778,"g":"r"},{"x":1.719,"y":25.617,"g":"r"},{"x":1.740,"y":25.257,"g":"r"},{"x":1.771,"y":25.497,"g":"r"},{"x":1.802,"y":25.377,"g":"r"},{"x":1.823,"y":25.257,"g":"r"},{"x":1.844,"y":25.138,"g":"r"},{"x":1.865,"y":25.557,"g":"r"},{"x":1.885,"y":25.737,"g":"r"},{"x":1.906,"y":25.437,"g":"r"},{"x":1.927,"y":25.856,"g":"r"},{"x":1.948,"y":25.617,"g":"r"},{"x":1.958,"y":25.078,"g":"r"},{"x":1.969,"y":25.916,"g":"r"},{"x":1.990,"y":25.737,"g":"r"},{"x":2.010,"y":25.856,"g":"r"},{"x":2.031,"y":25.617,"g":"r"},{"x":2.052,"y":26.036,"g":"r"},{"x":2.073,"y":26.096,"g":"r"},{"x":2.094,"y":26.635,"g":"r"},{"x":2.115,"y":26.335,"g":"r"},{"x":2.135,"y":26.216,"g":"r"},{"x":2.177,"y":26.216,"g":"r"},{"x":2.198,"y":26.096,"g":"r"},{"x":2.208,"y":26.994,"g":"r"},{"x":2.240,"y":26.335,"g":"r"},{"x":2.260,"y":26.455,"g":"r"},{"x":2.552,"y":27.982,"g":"r"},{"x":2.542,"y":27.263,"g":"r"},{"x":1.802,"y":25.617,"g":"r"},{"x":1.823,"y":25.497,"g":"r"},{"x":1.844,"y":25.856,"g":"r"},{"x":1.885,"y":25.497,"g":"r"},{"x":1.927,"y":25.377,"g":"r"},{"x":1.969,"y":25.497,"g":"r"},{"x":1.823,"y":25.078,"g":"r"},{"x":1.865,"y":25.198,"g":"r"},{"x":1.906,"y":25.856,"g":"r"},{"x":1.948,"y":26.096,"g":"r"},{"x":1.990,"y":26.216,"g":"r"},{"x":2.031,"y":25.976,"g":"r"},{"x":1.760,"y":25.138,"g":"r"},{"x":1.792,"y":25.856,"g":"r"},{"x":2.052,"y":26.216,"g":"r"},{"x":2.094,"y":26.156,"g":"r"},{"x":2.135,"y":26.455,"g":"r"},{"x":2.177,"y":26.395,"g":"r"}
],
"rav": [
{"x":1.469,"y":4.127,"g":"k"},{"x":1.521,"y":4.073,"g":"k"},{"x":1.490,"y":3.841,"g":"k"},{"x":1.552,"y":3.608,"g":"k"},{"x":1.563,"y":3.679,"g":"k"},{"x":1.604,"y":3.751,"g":"k"},{"x":1.635,"y":3.697,"g":"k"},{"x":1.656,"y":3.805,"g":"k"},{"x":1.594,"y":3.912,"g":"k"},{"x":1.635,"y":3.984,"g":"k"},{"x":1.615,"y":4.199,"g":"k"},{"x":1.656,"y":4.271,"g":"k"},{"x":1.677,"y":4.342,"g":"k"},{"x":1.698,"y":4.414,"g":"k"},{"x":1.615,"y":4.414,"g":"k"},{"x":1.677,"y":4.665,"g":"k"},{"x":1.719,"y":4.486,"g":"k"},{"x":1.698,"y":4.199,"g":"k"},{"x":1.719,"y":4.056,"g":"k"},{"x":1.740,"y":3.948,"g":"k"},{"x":1.760,"y":3.876,"g":"k"},{"x":1.719,"y":3.805,"g":"k"},{"x":1.740,"y":3.715,"g":"k"},{"x":1.802,"y":3.805,"g":"k"},{"x":1.781,"y":4.020,"g":"k"},{"x":1.802,"y":4.127,"g":"k"},{"x":1.823,"y":4.271,"g":"k"},{"x":1.844,"y":4.378,"g":"k"},{"x":1.865,"y":4.486,"g":"k"},{"x":1.885,"y":4.557,"g":"k"},{"x":1.802,"y":4.557,"g":"k"},{"x":1.760,"y":4.916,"g":"k"},{"x":1.781,"y":4.844,"g":"k"},{"x":1.823,"y":4.987,"g":"k"},{"x":1.865,"y":5.059,"g":"k"},{"x":1.885,"y":5.131,"g":"k"},{"x":1.906,"y":4.987,"g":"k"},{"x":1.927,"y":4.916,"g":"k"},{"x":1.948,"y":4.808,"g":"k"},{"x":1.969,"y":4.701,"g":"k"},{"x":1.990,"y":4.629,"g":"k"},{"x":2.010,"y":4.557,"g":"k"},{"x":2.031,"y":4.486,"g":"k"},{"x":2.052,"y":4.414,"g":"k"},{"x":2.073,"y":4.342,"g":"k"},{"x":1.990,"y":4.342,"g":"k"},{"x":1.948,"y":4.271,"g":"k"},{"x":1.927,"y":4.199,"g":"k"},{"x":1.906,"y":4.127,"g":"k"},{"x":1.885,"y":4.056,"g":"k"},{"x":1.865,"y":3.984,"g":"k"},{"x":1.844,"y":3.912,"g":"k"},{"x":1.823,"y":4.056,"g":"k"},{"x":1.885,"y":4.271,"g":"k"},{"x":1.927,"y":4.414,"g":"k"},{"x":1.969,"y":4.486,"g":"k"},{"x":1.885,"y":4.701,"g":"k"},{"x":1.844,"y":4.772,"g":"k"},{"x":1.802,"y":4.701,"g":"k"},{"x":1.927,"y":4.629,"g":"k"},{"x":1.969,"y":4.916,"g":"k"},{"x":2.010,"y":4.844,"g":"k"},{"x":2.052,"y":4.772,"g":"k"},{"x":2.094,"y":4.701,"g":"k"},{"x":2.115,"y":4.629,"g":"k"},{"x":2.135,"y":4.844,"g":"k"},{"x":2.177,"y":4.414,"g":"k"},{"x":2.219,"y":4.987,"g":"k"},{"x":2.094,"y":5.131,"g":"k"},{"x":2.073,"y":5.346,"g":"k"},{"x":2.135,"y":5.453,"g":"k"},{"x":2.115,"y":5.310,"g":"k"},{"x":2.052,"y":5.418,"g":"k"},{"x":2.010,"y":5.238,"g":"k"},{"x":1.969,"y":5.203,"g":"k"},{"x":1.927,"y":5.131,"g":"k"},{"x":1.990,"y":5.023,"g":"k"},{"x":2.094,"y":4.916,"g":"k"},{"x":2.135,"y":5.059,"g":"k"},{"x":2.177,"y":5.131,"g":"k"},{"x":2.219,"y":5.274,"g":"k"},{"x":2.240,"y":5.346,"g":"k"},{"x":2.260,"y":5.203,"g":"k"},{"x":2.281,"y":4.987,"g":"k"},{"x":2.302,"y":4.844,"g":"k"},{"x":2.323,"y":4.916,"g":"k"},{"x":2.344,"y":5.059,"g":"k"},{"x":2.365,"y":5.131,"g":"k"},{"x":2.385,"y":5.274,"g":"k"},{"x":2.406,"y":5.203,"g":"k"},{"x":2.427,"y":5.346,"g":"k"},{"x":2.448,"y":5.274,"g":"k"},{"x":2.469,"y":5.131,"g":"k"},{"x":2.490,"y":5.238,"g":"k"},{"x":2.510,"y":5.346,"g":"k"},{"x":2.531,"y":5.203,"g":"k"},{"x":2.469,"y":5.418,"g":"k"},{"x":2.490,"y":5.489,"g":"k"},{"x":2.510,"y":5.453,"g":"k"},{"x":2.552,"y":5.418,"g":"k"},{"x":2.594,"y":5.453,"g":"k"},{"x":2.615,"y":5.525,"g":"k"},{"x":2.573,"y":5.633,"g":"k"},{"x":2.552,"y":5.776,"g":"k"},{"x":2.490,"y":5.830,"g":"k"},{"x":2.594,"y":5.794,"g":"k"},{"x":2.635,"y":5.794,"g":"k"},{"x":2.698,"y":5.794,"g":"k"},{"x":2.823,"y":5.866,"g":"k"},{"x":2.490,"y":5.668,"g":"k"},{"x":2.531,"y":5.561,"g":"k"},{"x":2.698,"y":6.081,"g":"k"},{"x":2.563,"y":6.278,"g":"k"},{"x":2.240,"y":5.668,"g":"k"},{"x":2.260,"y":5.597,"g":"k"},{"x":2.365,"y":4.880,"g":"k"},{"x":2.219,"y":4.701,"g":"k"},{"x":2.302,"y":4.701,"g":"k"},{"x":2.344,"y":4.772,"g":"k"},{"x":2.385,"y":4.916,"g":"k"},{"x":2.427,"y":5.059,"g":"k"},{"x":2.302,"y":5.346,"g":"k"},{"x":2.344,"y":5.274,"g":"k"},{"x":2.240,"y":5.131,"g":"k"},{"x":2.198,"y":4.844,"g":"k"},{"x":2.156,"y":4.916,"g":"k"},{"x":2.406,"y":5.489,"g":"k"},{"x":2.344,"y":5.418,"g":"k"},{"x":2.052,"y":4.987,"g":"k"},{"x":2.010,"y":4.987,"g":"k"},{"x":1.969,"y":5.059,"g":"k"},{"x":1.885,"y":4.844,"g":"k"},{"x":1.844,"y":4.916,"g":"k"},{"x":1.927,"y":4.772,"g":"k"},{"x":1.969,"y":4.629,"g":"k"},{"x":2.010,"y":4.701,"g":"k"},{"x":2.052,"y":4.629,"g":"k"},{"x":1.885,"y":4.916,"g":"k"},{"x":1.823,"y":4.629,"g":"k"},{"x":1.760,"y":4.701,"g":"k"},{"x":1.740,"y":4.557,"g":"k"},{"x":1.677,"y":4.844,"g":"k"},{"x":1.635,"y":4.414,"g":"k"},{"x":1.594,"y":4.271,"g":"k"},{"x":1.552,"y":4.163,"g":"k"},{"x":1.677,"y":4.056,"g":"k"},{"x":1.760,"y":4.271,"g":"k"},{"x":1.802,"y":4.414,"g":"k"},{"x":1.844,"y":4.557,"g":"k"},{"x":1.885,"y":4.414,"g":"k"},{"x":1.927,"y":4.557,"g":"k"},{"x":2.010,"y":4.414,"g":"k"},{"x":2.094,"y":4.486,"g":"k"},{"x":2.052,"y":4.557,"g":"k"},{"x":1.969,"y":4.414,"g":"k"},{"x":1.927,"y":4.342,"g":"k"},{"x":1.844,"y":4.271,"g":"k"},{"x":1.760,"y":4.414,"g":"k"},{"x":1.802,"y":3.912,"g":"k"},{"x":1.885,"y":3.912,"g":"k"},{"x":1.927,"y":3.984,"g":"k"},{"x":1.969,"y":4.056,"g":"k"},{"x":2.010,"y":4.199,"g":"k"},{"x":2.052,"y":4.271,"g":"k"},{"x":2.094,"y":4.629,"g":"k"},{"x":2.135,"y":4.701,"g":"k"},{"x":1.865,"y":4.916,"g":"k"},{"x":1.906,"y":4.844,"g":"k"},{"x":1.948,"y":4.916,"g":"k"},{"x":1.990,"y":4.844,"g":"k"},{"x":2.031,"y":4.916,"g":"k"},{"x":2.073,"y":4.844,"g":"k"},{"x":1.906,"y":4.629,"g":"k"},{"x":1.948,"y":4.557,"g":"k"},{"x":1.990,"y":4.486,"g":"k"},{"x":2.031,"y":4.629,"g":"k"},{"x":2.073,"y":4.557,"g":"k"},{"x":1.865,"y":4.629,"g":"k"},{"x":1.823,"y":4.486,"g":"k"},{"x":1.865,"y":4.342,"g":"k"},{"x":1.906,"y":4.271,"g":"k"},{"x":1.948,"y":4.127,"g":"k"},{"x":1.990,"y":4.056,"g":"k"},{"x":1.802,"y":4.199,"g":"k"},{"x":1.844,"y":4.127,"g":"k"},{"x":1.771,"y":3.769,"g":"k"},{"x":1.885,"y":4.127,"g":"k"},{"x":1.969,"y":4.271,"g":"k"},{"x":2.010,"y":5.059,"g":"k"},{"x":2.094,"y":4.987,"g":"k"},{"x":2.135,"y":5.203,"g":"k"},{"x":2.177,"y":4.987,"g":"k"},{"x":2.219,"y":5.131,"g":"k"},{"x":2.260,"y":4.916,"g":"k"},{"x":2.281,"y":5.059,"g":"k"},{"x":2.323,"y":5.131,"g":"k"},{"x":2.365,"y":4.987,"g":"k"},{"x":2.406,"y":5.059,"g":"k"},{"x":2.448,"y":5.131,"g":"k"},{"x":2.490,"y":5.059,"g":"k"},{"x":2.531,"y":5.274,"g":"k"},{"x":2.573,"y":5.418,"g":"k"},{"x":2.615,"y":5.346,"g":"k"},{"x":2.385,"y":5.059,"g":"k"},{"x":2.427,"y":5.203,"g":"k"},{"x":2.469,"y":5.274,"g":"k"},{"x":2.510,"y":5.203,"g":"k"},{"x":2.552,"y":5.274,"g":"k"},{"x":2.260,"y":4.701,"g":"k"},{"x":2.177,"y":4.629,"g":"k"},{"x":2.208,"y":4.414,"g":"k"},{"x":1.885,"y":5.059,"g":"k"},{"x":1.927,"y":4.987,"g":"k"},{"x":1.969,"y":4.987,"g":"k"},{"x":2.052,"y":5.131,"g":"k"},{"x":2.094,"y":5.274,"g":"k"},{"x":2.177,"y":5.274,"g":"k"},{"x":2.219,"y":5.418,"g":"k"},{"x":2.302,"y":5.489,"g":"k"},{"x":2.177,"y":5.453,"g":"k"},{"x":2.115,"y":5.453,"g":"k"},{"x":2.052,"y":5.274,"g":"k"},
{"x":1.781,"y":4.629,"g":"k"},{"x":1.802,"y":4.486,"g":"k"},{"x":1.823,"y":4.342,"g":"k"},{"x":1.844,"y":4.199,"g":"k"},{"x":1.865,"y":4.056,"g":"k"},{"x":1.885,"y":4.486,"g":"k"},{"x":1.906,"y":4.414,"g":"k"},{"x":1.927,"y":4.486,"g":"k"},{"x":1.948,"y":4.342,"g":"k"},{"x":1.969,"y":4.199,"g":"k"},{"x":1.990,"y":4.271,"g":"k"},{"x":2.010,"y":4.486,"g":"k"},{"x":2.031,"y":4.414,"g":"k"},{"x":2.052,"y":4.342,"g":"k"},{"x":2.073,"y":4.414,"g":"k"},{"x":2.094,"y":4.557,"g":"k"},{"x":1.781,"y":4.342,"g":"k"},{"x":1.760,"y":4.127,"g":"k"},{"x":1.802,"y":4.056,"g":"k"},{"x":1.844,"y":3.984,"g":"k"},{"x":1.885,"y":3.984,"g":"k"},{"x":1.927,"y":4.056,"g":"k"},{"x":1.969,"y":4.127,"g":"k"},{"x":2.010,"y":4.271,"g":"k"},{"x":1.906,"y":4.701,"g":"k"},{"x":1.948,"y":4.701,"g":"k"},{"x":1.990,"y":4.772,"g":"k"},{"x":2.031,"y":4.701,"g":"k"},{"x":2.073,"y":4.701,"g":"k"},{"x":2.115,"y":4.772,"g":"k"},{"x":2.156,"y":4.772,"g":"k"},{"x":2.198,"y":4.916,"g":"k"},{"x":2.240,"y":4.987,"g":"k"},{"x":2.281,"y":4.844,"g":"k"},{"x":2.323,"y":4.987,"g":"k"},{"x":2.365,"y":5.059,"g":"k"},{"x":2.406,"y":5.131,"g":"k"},{"x":2.448,"y":5.203,"g":"k"},{"x":1.927,"y":4.844,"g":"k"},{"x":1.969,"y":4.772,"g":"k"},{"x":2.010,"y":4.772,"g":"k"},{"x":1.885,"y":4.772,"g":"k"},{"x":1.844,"y":4.844,"g":"k"},{"x":1.802,"y":4.844,"g":"k"},{"x":1.760,"y":4.557,"g":"k"},{"x":1.719,"y":4.342,"g":"k"},{"x":1.719,"y":4.199,"g":"k"},{"x":1.760,"y":4.056,"g":"k"},{"x":1.677,"y":4.199,"g":"k"},{"x":1.656,"y":4.127,"g":"k"},{"x":1.635,"y":3.912,"g":"k"},{"x":1.677,"y":3.841,"g":"k"},{"x":1.719,"y":3.912,"g":"k"},{"x":1.802,"y":3.697,"g":"k"},{"x":1.844,"y":3.769,"g":"k"},{"x":1.885,"y":3.841,"g":"k"},{"x":1.927,"y":3.912,"g":"k"},{"x":1.969,"y":3.984,"g":"k"},{"x":2.010,"y":4.056,"g":"k"},{"x":2.052,"y":4.127,"g":"k"},{"x":2.094,"y":4.271,"g":"k"},{"x":2.135,"y":4.414,"g":"k"},{"x":2.177,"y":4.486,"g":"k"},{"x":2.219,"y":4.557,"g":"k"},{"x":2.260,"y":4.629,"g":"k"},{"x":2.302,"y":4.772,"g":"k"},{"x":2.344,"y":4.844,"g":"k"},{"x":2.385,"y":4.987,"g":"k"},{"x":2.094,"y":4.844,"g":"k"},{"x":2.135,"y":4.916,"g":"k"},{"x":2.177,"y":4.772,"g":"k"},{"x":2.219,"y":4.772,"g":"k"},{"x":1.885,"y":4.987,"g":"k"},{"x":1.844,"y":5.059,"g":"k"},{"x":1.802,"y":4.987,"g":"k"},{"x":1.760,"y":5.059,"g":"k"},{"x":1.719,"y":4.844,"g":"k"},{"x":1.969,"y":4.844,"g":"k"},{"x":2.052,"y":4.844,"g":"k"},{"x":1.885,"y":4.342,"g":"k"},{"x":1.927,"y":4.271,"g":"k"},{"x":1.969,"y":4.557,"g":"k"},{"x":2.010,"y":4.629,"g":"k"},{"x":1.865,"y":4.557,"g":"k"},{"x":1.906,"y":4.486,"g":"k"},{"x":1.948,"y":4.414,"g":"k"},{"x":1.990,"y":4.414,"g":"k"},{"x":2.031,"y":4.271,"g":"k"},{"x":1.823,"y":4.199,"g":"k"},{"x":1.781,"y":4.199,"g":"k"},{"x":1.865,"y":3.912,"g":"k"},{"x":1.906,"y":4.056,"g":"k"},{"x":1.948,"y":3.984,"g":"k"}
],
"lines": [
{"p":"cdr","g":"b","x":1.3125,"y":1.471},{"p":"cdr","g":"b","x":3.08,"y":1.585},
{"p":"cdr","g":"g","x":1.3125,"y":2.724},{"p":"cdr","g":"g","x":3.08,"y":1.623},
{"p":"cdr","g":"r","x":1.3125,"y":4.28},{"p":"cdr","g":"r","x":3.08,"y":-0.66},
{"p":"ada","g":"b","x":1.3125,"y":8.0},{"p":"ada","g":"b","x":3.08,"y":14.63},
{"p":"ada","g":"g","x":1.3125,"y":14.05},{"p":"ada","g":"g","x":3.08,"y":13.32},
{"p":"ada","g":"r","x":1.3125,"y":18.42},{"p":"ada","g":"r","x":3.08,"y":6.77},
{"p":"mmse","g":"b","x":1.3125,"y":27.37},{"p":"mmse","g":"b","x":3.08,"y":26.47},
{"p":"mmse","g":"g","x":1.3125,"y":25.59},{"p":"mmse","g":"g","x":3.08,"y":27.29},
{"p":"mmse","g":"r","x":1.3125,"y":24.31},{"p":"mmse","g":"r","x":3.08,"y":28.50},
{"p":"rav","g":"k","x":1.3125,"y":3.554},{"p":"rav","g":"k","x":3.08,"y":6.278}
]
},
"columns": 2,
"spacing": {"row": 64, "column": 110},
"bounds": "flush",
"resolve": {"scale": {"x": "independent", "y": "independent", "color": "independent", "shape": "independent", "size": "independent"}, "legend": {"color": "independent", "shape": "independent"}},
"title": {"text": "IGFBP-2 (ng/mL)", "orient": "bottom", "anchor": "middle", "font": "Lato", "fontSize": 30.5, "offset": 19, "dx": 54},
"concat": [
{
"width": 283, "height": 311,
"title": "CDR-sob",
"layer": [
{"data": {"name": "cdr"},
 "mark": {"type": "point", "filled": false, "strokeWidth": 1.1, "opacity": 0.75},
 "encoding": {
  "x": {"field": "x", "type": "quantitative", "scale": {"domain": [1.3125, 3.08], "nice": false, "zero": false}, "axis": {"values": [1.5, 2, 2.5, 3], "labels": false, "title": null}},
  "y": {"field": "y", "type": "quantitative", "scale": {"domain": [0, 4.44], "nice": false, "zero": false}, "axis": {"values": [0, 1, 2, 3, 4], "labelExpr": "datum.value == 0 ? '0' : format(datum.value, '.1f')", "labelPadding": 7, "title": "Total Score", "titleX": -77, "titleBaseline": "alphabetic"}},
  "color": {"field": "g", "type": "nominal", "scale": {"domain": ["b", "g", "r"], "range": ["#2b8cbe", "#3cb44b", "#ee3b3b"]}, "legend": {"orient": "top-right", "offset": 10, "title": " ", "titleFontSize": 6, "titlePadding": 4, "labelExpr": "datum.label == 'b' ? 'R²=0.003' : datum.label == 'g' ? 'R²=0.191' : 'R²=0.843'"}},
  "shape": {"field": "g", "type": "nominal", "scale": {"domain": ["b", "g", "r"], "range": ["circle", "triangle-up", "M0,-1L0.186,-0.695L0.5,-0.866L0.509,-0.509L0.866,-0.5L0.695,-0.186L1,0L0.695,0.186L0.866,0.5L0.509,0.509L0.5,0.866L0.186,0.695L0,1L-0.186,0.695L-0.5,0.866L-0.509,0.509L-0.866,0.5L-0.695,0.186L-1,0L-0.695,-0.186L-0.866,-0.5L-0.509,-0.509L-0.5,-0.866L-0.186,-0.695Z"]}, "legend": {"orient": "top-right", "offset": 10, "title": " ", "titleFontSize": 6, "titlePadding": 4, "labelExpr": "datum.label == 'b' ? 'R²=0.003' : datum.label == 'g' ? 'R²=0.191' : 'R²=0.843'"}},
  "size": {"field": "g", "type": "nominal", "scale": {"domain": ["b", "g", "r"], "range": [125, 130, 230]}, "legend": null}
 }},
{"data": {"name": "lines"}, "transform": [{"filter": "datum.p == 'cdr'"}],
 "mark": {"type": "line", "clip": true, "strokeWidth": 2},
 "encoding": {
  "x": {"field": "x", "type": "quantitative"},
  "y": {"field": "y", "type": "quantitative"},
  "color": {"field": "g", "type": "nominal", "legend": null}
 }}
]
},
{
"width": 283, "height": 311,
"title": "ADAScog-11",
"layer": [
{"data": {"name": "ada"},
 "mark": {"type": "point", "filled": false, "strokeWidth": 1.1, "opacity": 0.75},
 "encoding": {
  "x": {"field": "x", "type": "quantitative", "scale": {"domain": [1.3125, 3.08], "nice": false, "zero": false}, "axis": {"values": [1.5, 2, 2.5, 3], "labels": false, "title": null}},
  "y": {"field": "y", "type": "quantitative", "scale": {"domain": [7.5, 19.13], "nice": false, "zero": false}, "axis": {"values": [7.5, 10, 12.5, 15, 17.5], "format": ".1f", "labelPadding": 7, "title": null}},
  "color": {"field": "g", "type": "nominal", "scale": {"domain": ["b", "g", "r"], "range": ["#2b8cbe", "#3cb44b", "#ee3b3b"]}, "legend": {"orient": "top-right", "offset": 10, "title": " ", "titleFontSize": 6, "titlePadding": 4, "labelExpr": "datum.label == 'b' ? 'R²=0.626' : datum.label == 'g' ? 'R²=0.025' : 'R²=0.884'"}},
  "shape": {"field": "g", "type": "nominal", "scale": {"domain": ["b", "g", "r"], "range": ["circle", "triangle-up", "M0,-1L0.186,-0.695L0.5,-0.866L0.509,-0.509L0.866,-0.5L0.695,-0.186L1,0L0.695,0.186L0.866,0.5L0.509,0.509L0.5,0.866L0.186,0.695L0,1L-0.186,0.695L-0.5,0.866L-0.509,0.509L-0.866,0.5L-0.695,0.186L-1,0L-0.695,-0.186L-0.866,-0.5L-0.509,-0.509L-0.5,-0.866L-0.186,-0.695Z"]}, "legend": {"orient": "top-right", "offset": 10, "title": " ", "titleFontSize": 6, "titlePadding": 4, "labelExpr": "datum.label == 'b' ? 'R²=0.626' : datum.label == 'g' ? 'R²=0.025' : 'R²=0.884'"}},
  "size": {"field": "g", "type": "nominal", "scale": {"domain": ["b", "g", "r"], "range": [140, 130, 230]}, "legend": null}
 }},
{"data": {"name": "lines"}, "transform": [{"filter": "datum.p == 'ada'"}],
 "mark": {"type": "line", "clip": true, "strokeWidth": 2},
 "encoding": {
  "x": {"field": "x", "type": "quantitative"},
  "y": {"field": "y", "type": "quantitative"},
  "color": {"field": "g", "type": "nominal", "legend": null}
 }}
]
},
{
"width": 283, "height": 309,
"title": "MMSE",
"layer": [
{"data": {"name": "mmse"},
 "mark": {"type": "point", "filled": false, "strokeWidth": 1.1, "opacity": 0.75},
 "encoding": {
  "x": {"field": "x", "type": "quantitative", "scale": {"domain": [1.3125, 3.08], "nice": false, "zero": false}, "axis": {"values": [1.5, 2, 2.5, 3], "format": ".1f", "title": null}},
  "y": {"field": "y", "type": "quantitative", "scale": {"domain": [24, 29.55], "nice": false, "zero": false}, "axis": {"values": [24, 25, 26, 27, 28, 29], "format": "d", "labelPadding": 7, "title": "Total Score", "titleX": -77, "titleBaseline": "alphabetic"}},
  "color": {"field": "g", "type": "nominal", "scale": {"domain": ["b", "g", "r"], "range": ["#2b8cbe", "#3cb44b", "#ee3b3b"]}, "legend": {"orient": "bottom-right", "offset": 6, "title": null, "labelExpr": "datum.label == 'b' ? 'R²=0.055' : datum.label == 'g' ? 'R²=0.211' : 'R²=0.628'"}},
  "shape": {"field": "g", "type": "nominal", "scale": {"domain": ["b", "g", "r"], "range": ["circle", "triangle-up", "M0,-1L0.186,-0.695L0.5,-0.866L0.509,-0.509L0.866,-0.5L0.695,-0.186L1,0L0.695,0.186L0.866,0.5L0.509,0.509L0.5,0.866L0.186,0.695L0,1L-0.186,0.695L-0.5,0.866L-0.509,0.509L-0.866,0.5L-0.695,0.186L-1,0L-0.695,-0.186L-0.866,-0.5L-0.509,-0.509L-0.5,-0.866L-0.186,-0.695Z"]}, "legend": {"orient": "bottom-right", "offset": 6, "title": null, "labelExpr": "datum.label == 'b' ? 'R²=0.055' : datum.label == 'g' ? 'R²=0.211' : 'R²=0.628'"}},
  "size": {"field": "g", "type": "nominal", "scale": {"domain": ["b", "g", "r"], "range": [140, 130, 230]}, "legend": null}
 }},
{"data": {"name": "lines"}, "transform": [{"filter": "datum.p == 'mmse'"}],
 "mark": {"type": "line", "clip": true, "strokeWidth": 2},
 "encoding": {
  "x": {"field": "x", "type": "quantitative"},
  "y": {"field": "y", "type": "quantitative"},
  "color": {"field": "g", "type": "nominal", "legend": null}
 }}
]
},
{
"width": 283, "height": 309,
"title": "RAVLT Delay Recall",
"layer": [
{"data": {"name": "rav"},
 "mark": {"type": "point", "shape": "circle", "filled": false, "strokeWidth": 1.1, "opacity": 0.6, "size": 170},
 "encoding": {
  "x": {"field": "x", "type": "quantitative", "scale": {"domain": [1.3125, 3.08], "nice": false, "zero": false}, "axis": {"values": [1.5, 2, 2.5, 3], "format": ".1f", "title": null}},
  "y": {"field": "y", "type": "quantitative", "scale": {"domain": [3.5, 6.83], "nice": false, "zero": false}, "axis": {"values": [3.5, 4, 4.5, 5, 5.5, 6, 6.5], "format": ".1f", "labelPadding": 7, "title": null}},
  "color": {"field": "g", "type": "nominal", "scale": {"domain": ["k"], "range": ["#000000"]}, "legend": {"orient": "bottom-right", "offset": 7, "title": null, "symbolOpacity": 0, "symbolSize": 5200, "labelExpr": "'R²=0.627'"}}
 }},
{"data": {"name": "lines"}, "transform": [{"filter": "datum.p == 'rav'"}],
 "mark": {"type": "line", "clip": true, "strokeWidth": 2},
 "encoding": {
  "x": {"field": "x", "type": "quantitative"},
  "y": {"field": "y", "type": "quantitative"},
  "color": {"field": "g", "type": "nominal", "legend": null}
 }}
]
}
],
"config": {
 "font": "Lato",
 "view": {"stroke": "#111111", "strokeWidth": 2},
 "axis": {"domain": false, "grid": false, "ticks": true, "tickColor": "#111111", "tickWidth": 2, "tickSize": 5, "labelFont": "Lato", "labelFontWeight": "bold", "labelFontSize": 27.5, "labelColor": "#111111", "labelPadding": 4, "labelFlush": false, "labelOverlap": false, "labelBound": false, "titleFont": "Lato", "titleFontWeight": "bold", "titleFontSize": 34, "titleColor": "#111111"},
 "title": {"font": "DejaVu Sans", "fontWeight": "bold", "fontSize": 23, "color": "#111111", "offset": 7},
 "legend": {"labelFont": "Lato", "labelFontWeight": "bold", "labelFontSize": 20.5, "labelColor": "#111111", "symbolSize": 225, "symbolStrokeWidth": 1.3, "rowPadding": 7.5, "labelOffset": 2, "padding": 0}
}
}
